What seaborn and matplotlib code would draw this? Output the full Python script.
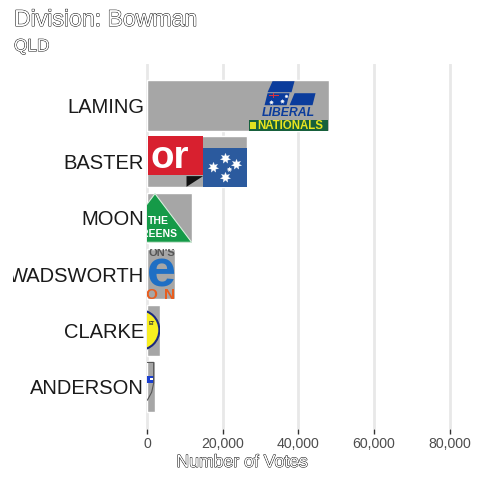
import matplotlib
matplotlib.use("Agg")
import matplotlib.pyplot as plt
import matplotlib.patheffects as pe
from matplotlib.patches import Polygon, Rectangle, Circle
from matplotlib.lines import Line2D
from matplotlib.transforms import Affine2D, Bbox
from matplotlib.ticker import FuncFormatter
import seaborn as sns
import pandas as pd

candidates = ["LAMING", "BASTER", "MOON", "WADSWORTH", "CLARKE", "ANDERSON"]
votes = [48000, 26300, 11800, 7500, 3500, 2000]
x_ticks = [0, 20000, 40000, 60000, 80000]
title = "Division: Bowman"
subtitle = "QLD"
x_title = "Number of Votes"

BAR = "#a6a6a6"
GRID = "#e8e8e8"
W = H = 480

sns.set_theme(style="white")
plt.rcParams["font.family"] = ["Liberation Sans", "DejaVu Sans"]

fig = plt.figure(figsize=(4.8, 4.8), dpi=100)
ax = fig.add_axes([140 / W, 1 - 429 / H, 330 / W, 365 / H])
df = pd.DataFrame({"candidate": candidates, "votes": votes})
sns.barplot(data=df, y="candidate", x="votes", color=BAR, saturation=1,
            width=0.9, ax=ax, zorder=2)

# 75.6 px per 20,000 votes; one category step is 56.2 px
ax.set_xlim(-(147.1 - 140) / 75.6 * 20000, (470 - 147.1) / 75.6 * 20000)
ax.set_ylim((429 - 105.5) / 56.2, -(105.5 - 64) / 56.2)
for s in ax.spines.values():
    s.set_visible(False)
ax.xaxis.grid(True, color=GRID, linewidth=2, zorder=0)
ax.yaxis.grid(False)
ax.set_axisbelow(True)
ax.set_xticks(x_ticks)
ax.xaxis.set_major_formatter(FuncFormatter(lambda v, _: f"{int(v):,}"))
ax.tick_params(axis="x", length=3.5, width=1, color="#333333", labelsize=10.2,
               labelcolor="#4d4d4d", pad=2, bottom=True)
ax.tick_params(axis="y", length=0, labelsize=14.5, labelcolor="#1a1a1a", pad=-3)
ax.set_xlabel("")
ax.set_ylabel("")

# y labels run off to the left and are cut at the plot margin
for lab in ax.get_yticklabels():
    lab.set_clip_on(True)
    lab.set_clip_box(Bbox([[13, 0], [W, H]]))

outline = [pe.Stroke(linewidth=0.65, foreground="#000000"), pe.Normal()]
fig.text(14 / W, 1 - 26 / H, title, fontsize=16.6, color="white", path_effects=outline)
fig.text(14 / W, 1 - 51 / H, subtitle, fontsize=12.4, color="white", path_effects=outline)
fig.text(242 / W, 1 - 467 / H, x_title, fontsize=12.7, color="white", ha="center",
         path_effects=outline)

fig.canvas.draw()
bars = {name: p for name, p in zip(candidates, ax.patches)}


class Logo:
    """Decoration drawn in pixel offsets from the bar's outer top corner, clipped to the bar."""

    def __init__(self, name):
        self.bar = bars[name]
        b = self.bar.get_bbox()
        x0, y0 = ax.transData.transform((b.x1, b.y0))
        self.tr = Affine2D().scale(1, -1).translate(x0, y0)

    def _clip(self, art):
        art.set_clip_on(True)
        art.set_clip_path(self.bar)
        art.set_zorder(4)

    def poly(self, pts, fc, ec="none", lw=0):
        art = ax.add_patch(Polygon(pts, closed=True, fc=fc, ec=ec, lw=lw, transform=self.tr))
        self._clip(art)

    def rect(self, x, y, w, h, fc):
        art = ax.add_patch(Rectangle((x, y), w, h, fc=fc, ec="none", transform=self.tr))
        self._clip(art)

    def circle(self, x, y, r, fc, ec, lw):
        art = ax.add_patch(Circle((x, y), r, fc=fc, ec=ec, lw=lw, transform=self.tr))
        self._clip(art)

    def line(self, xs, ys, color, lw):
        art = ax.add_line(Line2D(xs, ys, color=color, lw=lw, transform=self.tr))
        self._clip(art)

    def star(self, x, y, size):
        art = ax.add_line(Line2D([x], [y], ls="none", marker=(7, 1, 0), ms=size, mfc="white",
                                 mec="white", mew=0.2, transform=self.tr))
        self._clip(art)

    def text(self, x, y, s, size, color, ha="center", **kw):
        art = ax.text(x, y, s, fontsize=size, color=color, ha=ha, va="baseline",
                      fontweight="bold", transform=self.tr, **kw)
        self._clip(art)


# Liberal / Nationals
lg = Logo("LAMING")
navy = "#0b3c9c"
lg.poly([(-56, 1), (-34, 1), (-37, 12), (-61, 12)], navy)
lg.poly([(-61, 13), (-39, 13), (-42, 25), (-64, 25)], navy)
lg.poly([(-34, 13), (-13, 13), (-16, 25), (-39, 25)], navy)
lg.rect(-60, 14.5, 10, 1.6, "#d8313f")
lg.rect(-56, 13, 1.6, 5, "#d8313f")
lg.star(-47, 21, 3)
lg.star(-58, 22, 3)
lg.star(-43, 16, 2.5)
lg.text(-40.5, 36, "LIBERAL", 8.8, navy, style="italic")
lg.rect(-80, 39.3, 79.5, 11.4, "#17603c")
lg.rect(-78.5, 42, 6, 6.5, "#dfe021")
lg.text(-38, 49, "NATIONALS", 8.3, "#e8e41f")

# Labor
lb = Logo("BASTER")
lb.rect(-44, 11.7, 44, 38.7, "#2b5a9e")
lb.rect(-99, 0, 55.6, 39, "#d8202f")
lb.poly([(-60, 50.4), (-43.4, 39.7), (-60, 39.7)], "#111111")
lb.text(-57.7, 32, "or", 27.7, "white", ha="right")
lb.star(-21.7, 22, 7.5)
lb.star(-33.4, 30.4, 7.5)
lb.star(-10.7, 28, 7.5)
lb.star(-21.7, 41, 7.5)
lb.star(-17.4, 32.4, 3.5)

# Greens
gr = Logo("MOON")
gr.poly([(-36.7, 1), (0, 49.7), (-73.4, 49.7)], "#159a48", ec="#d8eedd", lw=0.8)
gr.text(-33.7, 31, "THE", 7.5, "white")
gr.text(-13.7, 44, "GREENS", 7.5, "white", ha="right")

# One Nation
on = Logo("WADSWORTH")
on.text(0, 7, "ON'S", 8, "#555555", ha="right")
on.text(0, 38, "e", 37.5, "#1f6fc4", ha="right")
on.text(0, 50, "N", 11, "#e85d1e", ha="right")
on.text(-18, 50, "O", 11, "#e85d1e", ha="right")

# Round yellow badge
cl = Logo("CLARKE")
cl.circle(-21, 25, 20, "#f8ee20", "#1c2a80", 1.5)
cl.text(-5, 20, "ET", 3.5, "#333333", ha="right")

# Shield
sh = Logo("ANDERSON")
sh.rect(-7.3, 14.7, 6.3, 7, "#1a3fd0")
sh.rect(-4.5, 16.5, 2.5, 2.5, "white")
sh.line([-7.3, -1, -1, -3, -7.3], [1.2, 1.2, 22, 31, 39], "#555555", 0.8)

fig.savefig("out.png", dpi=100)
